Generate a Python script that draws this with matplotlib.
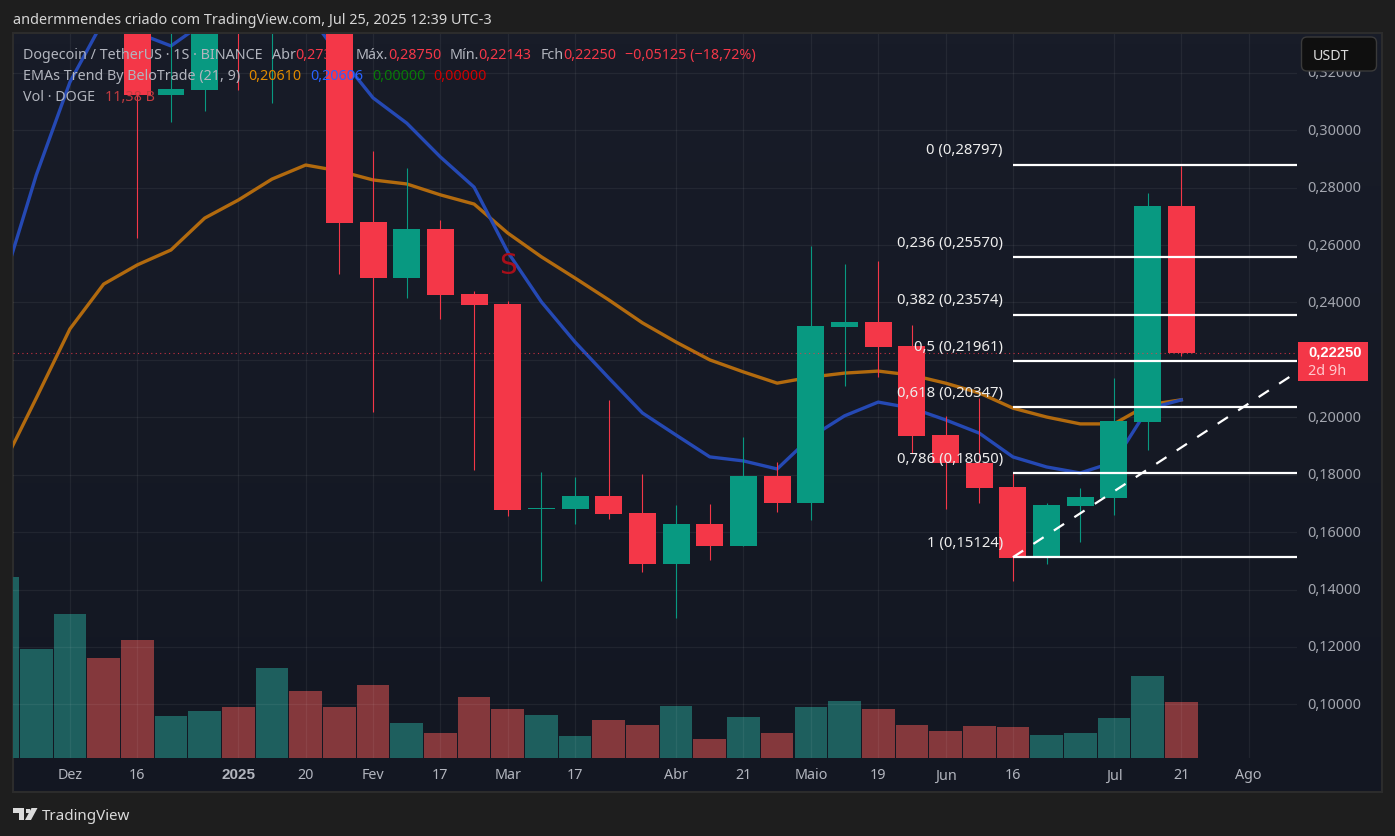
import numpy as np
import matplotlib
matplotlib.use("Agg")
import matplotlib.pyplot as plt
from matplotlib.patches import Rectangle, FancyBboxPatch, Polygon

FONT = "Noto Sans"
plt.rcParams["font.family"] = [FONT, "DejaVu Sans"]

# weekly candles (those above the visible range are estimates)
opens = [.3600, .3800, .3900, .4100, .4000, .3123, .3140, .3900, .3450, .3850, .3600, .2680, .2486, .2656, .2430, .2395,
         .1680, .1680, .1726, .1667, .1489, .1628, .1552, .1795, .1701, .2315, .2332, .2248, .1938, .1841, .1757, .1513,
         .1691, .1719, .1984, .2735]
closes = [.3800, .3900, .4100, .3950, .3123, .3144, .3700, .3450, .3850, .3600, .2678, .2486, .2656, .2426, .2391, .1677,
          .1683, .1726, .1663, .1489, .1628, .1552, .1795, .1701, .2318, .2332, .2245, .1935, .1841, .1754, .1510, .1694,
          .1722, .1987, .2736, .2225]
highs = [.3900, .4000, .4200, .4300, .4280, .3600, .3800, .4000, .4000, .4300, .3700, .2928, .2869, .2687, .2440, .2405,
         .1809, .1792, .2060, .1802, .1694, .1698, .1931, .1844, .2597, .2534, .2545, .2322, .2005, .2067, .1809, .1701,
         .1754, .2137, .2781, .2875]
lows = [.3500, .3700, .3800, .3800, .2625, .3030, .3068, .3141, .3096, .3400, .2500, .2018, .2417, .2342, .1817, .1656,
        .1430, .1628, .1646, .1461, .1301, .1503, .1552, .1670, .1642, .2109, .2140, .1876, .1680, .1701, .1430, .1489,
        .1566, .1660, .1886, .2214]
volumes = [36.9, 22.2, 29.4, 20.4, 24.0, 8.52, 9.54, 10.36, 18.3, 13.6, 10.36, 14.85, 7.09, 5.05, 12.4, 9.95, 8.72, 4.43,
           7.70, 6.68, 10.56, 3.82, 8.32, 5.05, 10.36, 11.58, 9.95, 6.68, 5.45, 6.48, 6.27, 4.64, 5.05, 8.11, 16.69, 11.38]
ema21 = [.1830, .2067, .2308, .2464, .2531, .2583, .2694, .2757, .2830, .2879, .2858, .2827, .2813, .2775, .2743, .2642,
         .2559, .2485, .2409, .2329, .2262, .2200, .2158, .2119, .2140, .2154, .2161, .2147, .2119, .2085, .2032, .2001,
         .1977, .1977, .2043, .2061]
ema9 = [.2461, .2844, .3168, .3384, .3339, .3294, .3377, .3437, .3471, .3419, .3259, .3113, .3025, .2907, .2802, .2576,
        .2402, .2262, .2137, .2015, .1938, .1862, .1848, .1820, .1931, .2005, .2053, .2032, .1991, .1945, .1862, .1827,
        .1806, .1844, .2029, .20606]

fib_ratios = ["0", "0,236", "0,382", "0,5", "0,618", "0,786", "1"]
fib_prices = [.28797, .25570, .23574, .21961, .20347, .18050, .15124]
fib_texts = ["0,28797", "0,25570", "0,23574", "0,21961", "0,20347", "0,18050", "0,15124"]
fib_start = 30
trend_x = [30, 38.44]
trend_y = [.15124, .2158]
last_price = .2225

price_ticks = [.10, .12, .14, .16, .18, .20, .22, .24, .26, .28, .30, .32]
price_labels = ["0,10000", "0,12000", "0,14000", "0,16000", "0,18000", "0,20000", "", "0,24000", "0,26000",
                "0,28000", "0,30000", "0,32000"]
time_ticks = [2, 4, 7, 9, 11, 13, 15, 17, 20, 22, 24, 26, 28, 30, 33, 35, 37]
time_labels = ["Dez", "16", "2025", "20", "Fev", "17", "Mar", "17", "Abr", "21", "Maio", "19", "Jun", "16", "Jul", "21", "Ago"]

GREEN, RED = "#089981", "#F43748"
VOL_G, VOL_R = "#1E5F5E", "#84383C"
W, H = 1395, 837

fig = plt.figure(figsize=(W / 100, H / 100), dpi=100, facecolor="#1E1E1E")
def box(l, t, r, b):
    return [l / W, 1 - b / H, (r - l) / W, (b - t) / H]
def fx(x): return x / W
def fy(y): return 1 - y / H

# pane background
bg = fig.add_axes(box(13, 34, 1382, 792.5), zorder=-1)
grad = np.array([[0x18, 0x1C, 0x28], [0x13, 0x17, 0x22]], dtype=float) / 255
bg.imshow(np.linspace(grad[0], grad[1], 64)[:, None, :], aspect="auto", extent=(0, 1, 0, 1))
bg.set_xticks([]); bg.set_yticks([])
for s in bg.spines.values():
    s.set_color("#2C2C2C"); s.set_linewidth(1.5)

ax = fig.add_axes(box(13, 35, 1297, 758.7), zorder=2)
ax.patch.set_alpha(0)
ax2 = ax.twinx()
ax2.set_zorder(1)
ax2.patch.set_alpha(0)
ax.set_zorder(2)

idx = np.arange(len(opens))
up = [c >= o for o, c in zip(opens, closes)]
ax2.bar(idx, volumes, width=.97, color=[VOL_G if u else VOL_R for u in up], linewidth=0)
ax2.set_ylim(0, 147.85)
ax2.set_yticks([])
for s in ax2.spines.values():
    s.set_visible(False)

ax.set_xlim(.3088, 38.436)
ax.set_ylim(.0814, .33355)
colors = [GREEN if u else RED for u in up]
ax.plot(idx, ema21, color="#B26A0E", lw=2.4, zorder=3, solid_joinstyle="round")
ax.plot(idx, ema9, color="#2549B4", lw=2.4, zorder=3.1, solid_joinstyle="round")
wicks = ax.vlines(idx, lows, highs, colors=colors, lw=.8, zorder=4)
wicks.set_snap(True)
ax.bar(idx, np.array(closes) - np.array(opens), bottom=opens, width=.80, color=colors, linewidth=0, zorder=5)
ax.plot([.3088, 38.436], [last_price, last_price], color=RED, lw=.8, ls=(0, (1, 3)), alpha=.8, zorder=5.5)

ax.hlines(fib_prices, fib_start, 38.436, colors="white", lw=1.6, zorder=6)
ax.plot(trend_x, trend_y, color="white", lw=1.6, ls=(0, (5.5, 5.5)), zorder=6)
for r, p, t in zip(fib_ratios, fib_prices, fib_texts):
    ax.annotate(f"{r} ({t})", (fib_start, p), xytext=(-7.2, 10.8), textcoords="offset points", ha="right", va="center",
                color="#EDEDED", fontsize=10.7, zorder=7)
ax.text(15, .2530, "S", color="#A80F1A", fontsize=20, ha="center", va="center", zorder=4.5, family="DejaVu Sans")

ax.set_yticks(price_ticks, price_labels)
ax.set_xticks(time_ticks, time_labels)
ax.yaxis.tick_right()
ax.tick_params(axis="y", length=0, pad=7.5, labelsize=10.4, labelcolor="#A3A6AF")
ax.tick_params(axis="x", length=0, pad=7, labelsize=10.3, labelcolor="#B2B5BE")
for lab in ax.get_yticklabels():
    lab.set_verticalalignment("center")
year = ax.get_xticklabels()[2]
year.set_fontweight("bold"); year.set_family("Liberation Sans"); year.set_fontsize(11)
ax.grid(True, color="white", alpha=.06, lw=.9)
ax.set_axisbelow(True)
for s in ax.spines.values():
    s.set_visible(False)

# header and legend
fig.text(fx(13), fy(21), "andermmendes criado com TradingView.com, Jul 25, 2025 12:39 UTC-3", color="#D6D6D6",
         fontsize=10.4, va="center")
GREY = "#B2B5BE"
legend = [
    (23, 55.5, "Dogecoin / TetherUS · 1S · BINANCE", GREY),
    (272, 55.5, "Abr", GREY), (295, 55.5, "0,27375", RED), (356, 55.5, "Máx.", GREY), (388, 55.5, "0,28750", RED),
    (450, 55.5, "Mín.", GREY), (478, 55.5, "0,22143", RED), (541, 55.5, "Fch", GREY), (563, 55.5, "0,22250", RED),
    (625, 55.5, "−0,05125 (−18,72%)", RED),
    (23, 76.5, "EMAs Trend By BeloTrade (21, 9)", GREY), (248, 76.5, "0,20610", "#E08A00"), (310, 76.5, "0,20606", "#2962FF"),
    (372, 76.5, "0,00000", "#087A08"), (433, 76.5, "0,00000", "#D00000"),
    (23, 97.5, "Vol · DOGE", GREY), (105, 97.5, "11,38 B", "#C23B40"),
]
for x, y, s, c in legend:
    fig.text(fx(x), fy(y), s, color=c, fontsize=10.3, va="center", zorder=8)

# USDT button
fig.add_artist(FancyBboxPatch((fx(1305), fy(68.5)), (1373 - 1305) / W, 27 / H, boxstyle="round,pad=0.0025,rounding_size=0.004",
                              mutation_aspect=W / H, transform=fig.transFigure, fc="#0F0F0F", ec="#3A3A3A", lw=1, zorder=9))
fig.text(fx(1313), fy(56), "USDT", color="#DBDBDB", fontsize=10.3, va="center", zorder=10)

# price tag
fig.add_artist(Rectangle((fx(1298), fy(382)), 70 / W, 39 / H, transform=fig.transFigure, fc=RED, ec="none", zorder=9))
fig.text(fx(1308.5), fy(353), "0,22250", color="white", fontsize=10.6, va="center", fontweight="bold",
         family="Liberation Sans", zorder=10)
fig.text(fx(1308.5), fy(372), "2d 9h", color="#FFC8CD", fontsize=10.4, va="center", zorder=10)

# footer logo
LOGO = "#DADADA"
def pts(seq): return [(fx(x), fy(y)) for x, y in seq]
fig.add_artist(Polygon(pts([(13, 809), (24, 809), (24, 821), (18.5, 821), (18.5, 814), (13, 814)]), closed=True,
                       transform=fig.transFigure, fc=LOGO, ec="none", zorder=9))
fig.add_artist(Polygon(pts([(31.5, 809), (37.5, 809), (31, 821), (25, 821)]), closed=True,
                       transform=fig.transFigure, fc=LOGO, ec="none", zorder=9))
fig.add_artist(Polygon(pts([(25.5, 809.5), (29.5, 809.5), (29.5, 813.5), (25.5, 813.5)]), closed=True,
                       transform=fig.transFigure, fc=LOGO, ec="none", zorder=9))
fig.text(fx(42), fy(816.5), "TradingView", color=LOGO, fontsize=10.9, va="center", zorder=10)

fig.savefig("out.png", dpi=100, facecolor=fig.get_facecolor())
